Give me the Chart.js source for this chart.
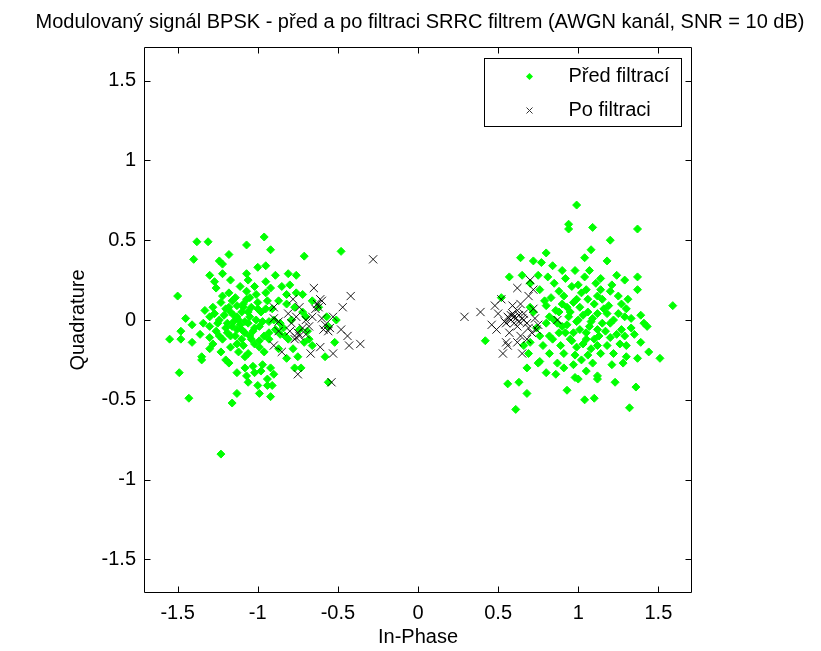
<!DOCTYPE html>
<html>
<head>
<meta charset="utf-8">
<script src="https://cdn.jsdelivr.net/npm/chart.js@4/dist/chart.umd.min.js"></script>
<style>
html,body{margin:0;padding:0;background:#fff;}
#wrap{width:821px;height:651px;}
</style>
</head>
<body>
<div id="wrap"><canvas id="c" width="821" height="651"></canvas></div>
<script>
// ---- data (I = In-Phase, Q = Quadrature) ----
const titleText = 'Modulovaný signál BPSK - před a po filtraci SRRC filtrem (AWGN kanál, SNR = 10 dB)';
const xLabel = 'In-Phase';
const yLabel = 'Quadrature';
const seriesNames = ['Před filtrací', 'Po filtraci'];
const xTicks = [-1.5, -1, -0.5, 0, 0.5, 1, 1.5];
const yTicks = [-1.5, -1, -0.5, 0, 0.5, 1, 1.5];

const beforeLeft = [
[-1.38,0.49],[-1.31,0.49],[-1.07,0.47],[-0.96,0.52],[-0.92,0.44],[-1.40,0.38],[-1.24,0.37],[-1.18,0.41],[-0.71,0.40],[-0.48,0.43],
[-1.30,0.28],[-1.22,0.35],[-1.22,0.29],[-1.07,0.29],[-1.00,0.33],[-0.95,0.34],[-0.89,0.28],[-0.81,0.29],[-0.76,0.28],[-1.06,0.25],
[-1.02,0.21],[-0.95,0.24],[-1.27,0.24],[-1.26,0.20],[-1.18,0.17],[-1.07,0.18],[-0.95,0.17],[-1.50,0.15],[-0.82,0.16],[-0.76,0.17],
[-0.72,0.16],[-1.16,0.12],[-1.07,0.13],[-1.00,0.11],[-0.94,0.12],[-1.23,0.11],[-1.28,0.08],[-1.09,0.08],[-1.04,0.08],[-0.95,0.07],
[-0.82,0.10],[-0.77,0.08],[-0.66,0.12],[-1.30,0.02],[-1.17,0.05],[-1.13,0.02],[-1.10,0.05],[-1.05,0.02],[-1.45,0.01],[-1.24,0.00],
[-1.19,-0.02],[-1.15,-0.01],[-1.11,-0.03],[-1.06,-0.02],[-1.01,0.00],[-0.93,-0.01],[-0.86,-0.02],[-0.79,0.00],[-0.70,0.02],[-0.57,0.02],
[-0.51,0.00],[-1.41,-0.03],[-1.30,-0.04],[-1.26,-0.07],[-1.20,-0.05],[-1.13,-0.06],[-1.08,-0.08],[-1.03,-0.07],[-0.99,-0.04],[-0.93,-0.08],
[-0.86,-0.09],[-0.83,-0.10],[-0.74,-0.06],[-0.69,-0.07],[-0.56,-0.04],[-1.48,-0.07],[-1.55,-0.12],[-1.48,-0.12],[-1.41,-0.14],[-1.36,-0.09],
[-1.30,-0.11],[-1.28,-0.15],[-1.22,-0.12],[-1.17,-0.10],[-1.10,-0.12],[-1.05,-0.10],[-0.99,-0.13],[-0.93,-0.12],[-0.81,-0.12],[-0.66,-0.16],
[-0.52,-0.14],[-1.30,-0.18],[-1.23,-0.20],[-1.17,-0.17],[-1.09,-0.16],[-1.06,-0.21],[-0.99,-0.17],[-1.35,-0.23],[-1.35,-0.25],[-1.20,-0.25],
[-1.18,-0.27],[-1.08,-0.23],[-1.03,-0.29],[-0.97,-0.28],[-0.92,-0.30],[-0.75,-0.23],[-0.58,-0.23],[-0.77,-0.30],[-0.73,-0.30],[-1.49,-0.33],
[-1.13,-0.33],[-1.07,-0.35],[-1.02,-0.33],[-0.98,-0.32],[-0.94,-0.37],[-0.90,-0.34],[-1.06,-0.39],[-1.00,-0.41],[-0.99,-0.46],[-0.94,-0.41],
[-0.91,-0.41],[-1.13,-0.46],[-0.92,-0.48],[-1.43,-0.49],[-1.16,-0.52],[-0.56,-0.39],[-1.23,-0.84],
[-1.12,0.00],[-1.15,0.03],[-1.08,-0.01],[-1.02,-0.05],[-1.09,0.10],[-1.14,-0.10],[-0.98,0.05],[-1.05,0.14],[-1.20,0.07],[-0.90,0.00],
[-0.87,0.12],[-1.25,-0.02],[-1.02,-0.15],[-0.96,-0.20],[-1.12,-0.20],[-0.84,-0.05],[-0.78,-0.18],[-0.72,0.05],[-0.68,-0.12],[-0.62,0.08],
[-1.18,0.08],[-1.13,0.09],[-1.21,0.03],[-1.16,-0.04],[-1.10,-0.06],[-1.06,0.05],[-1.00,0.07],[-0.97,-0.01],[-1.04,-0.12],[-1.14,0.14],
[-1.22,0.15],[-1.01,0.16],[-0.91,0.07],[-0.89,-0.06],[-0.96,-0.10],[-1.19,-0.08],[-1.24,-0.10],[-1.27,0.04],[-1.33,0.06],[-1.34,-0.02],
[-0.85,0.21],[-0.80,0.22],[-0.92,0.20],[-1.11,0.21],[-1.17,0.25],[-1.13,-0.15],[-1.08,-0.30],[-0.87,-0.18],[-0.82,-0.24],[-0.71,-0.14]
];

const beforeRight = [
[0.99,0.72],[0.94,0.60],[0.94,0.57],[1.09,0.58],[1.37,0.57],[1.20,0.50],[1.08,0.44],[1.04,0.39],[0.80,0.42],[0.64,0.39],
[0.72,0.37],[0.77,0.36],[0.84,0.34],[1.18,0.37],[0.90,0.31],[0.98,0.31],[1.07,0.31],[1.37,0.27],[0.57,0.27],[0.65,0.28],
[0.75,0.28],[0.81,0.27],[0.92,0.26],[1.04,0.27],[1.14,0.26],[1.24,0.28],[1.29,0.25],[0.70,0.23],[0.85,0.23],[0.96,0.21],
[1.05,0.19],[1.14,0.19],[1.20,0.18],[1.37,0.19],[0.76,0.19],[0.83,0.14],[0.99,0.13],[1.02,0.17],[1.12,0.15],[1.19,0.09],
[1.27,0.10],[1.30,0.07],[1.39,0.03],[1.59,0.09],[0.52,0.14],[0.70,0.08],[0.80,0.09],[0.88,0.05],[0.94,0.02],[1.01,0.08],
[1.06,0.05],[1.09,0.01],[1.18,0.04],[1.25,0.04],[1.33,0.01],[1.41,-0.02],[1.43,-0.04],[0.80,-0.02],[0.87,-0.02],[0.93,-0.03],
[0.99,-0.01],[1.07,-0.04],[1.12,-0.06],[1.20,-0.02],[1.27,-0.06],[1.33,-0.05],[1.05,-0.08],[1.13,-0.10],[1.20,-0.11],[1.29,-0.10],
[0.76,-0.10],[0.82,-0.10],[0.88,-0.08],[0.97,-0.08],[0.70,-0.14],[0.78,-0.16],[0.89,-0.16],[0.96,-0.13],[1.03,-0.15],[1.12,-0.16],
[1.22,-0.21],[1.30,-0.16],[1.39,-0.14],[1.44,-0.20],[1.51,-0.24],[0.42,-0.13],[0.69,-0.21],[0.82,-0.21],[0.91,-0.21],[0.98,-0.22],
[1.06,-0.22],[1.14,-0.21],[1.30,-0.23],[1.37,-0.24],[0.68,-0.30],[0.75,-0.27],[0.80,-0.33],[0.86,-0.34],[0.98,-0.36],[1.05,-0.32],
[1.12,-0.35],[1.21,-0.28],[1.28,-0.27],[0.56,-0.40],[0.63,-0.39],[0.68,-0.46],[0.93,-0.44],[1.00,-0.37],[1.12,-0.37],[1.23,-0.39],
[1.36,-0.42],[1.04,-0.50],[1.10,-0.49],[0.61,-0.56],[1.32,-0.55],[0.76,-0.26],[0.66,-0.16],[0.87,-0.27],[1.09,-0.27],
[0.95,0.05],[1.00,0.00],[0.90,0.10],[1.10,0.10],[1.15,-0.02],[0.85,0.00],[1.05,-0.12],[0.92,-0.08],[1.00,0.22],[0.72,0.05],
[0.74,-0.05],[1.25,0.15],[0.88,0.18],[1.18,-0.16],[0.97,-0.28],
[0.93,0.08],[0.97,0.11],[1.03,0.03],[1.08,-0.01],[1.12,0.04],[1.16,0.07],[1.22,0.00],[1.24,-0.09],[1.17,-0.07],[1.10,-0.12],
[1.01,-0.06],[0.95,-0.12],[0.90,-0.04],[0.86,0.06],[0.82,0.02],[0.91,0.15],[1.06,0.13],[1.15,0.13],[1.29,0.02],[1.35,-0.09],
[1.26,-0.15],[1.08,-0.18],[0.99,-0.17],[0.84,-0.12],[0.79,0.12],[1.11,0.23],[1.21,0.22],[1.31,0.13],[1.02,-0.25],[0.91,-0.30]
];

const afterLeft = [
[-0.28,0.38],[-0.65,0.20],[-0.42,0.15],[-0.78,0.13],[-0.60,0.12],[-0.90,0.08],[-0.74,0.08],[-0.62,0.08],[-0.47,0.08],[-0.53,0.02],
[-0.90,0.01],[-0.76,0.02],[-0.66,0.02],[-0.60,0.01],[-0.87,-0.01],[-0.79,-0.02],[-0.70,0.00],[-0.59,-0.06],[-0.55,-0.05],[-0.48,-0.06],
[-0.87,-0.07],[-0.75,-0.08],[-0.70,-0.09],[-0.76,-0.11],[-0.44,-0.10],[-0.90,-0.16],[-0.85,-0.20],[-0.80,-0.07],[-0.61,-0.17],[-0.53,-0.21],
[-0.67,-0.21],[-0.43,-0.16],[-0.36,-0.15],[-0.75,-0.34],[-0.54,-0.39],[-0.61,0.13],[-0.64,0.07],[-0.72,-0.05],[-0.56,-0.07],
[-0.77,-0.12],[-0.74,-0.10],[-0.63,0.10],[-0.58,-0.03],[-0.68,-0.04],[-0.81,0.04]
];

const afterRight = [
[0.29,0.02],[0.39,0.05],[0.62,0.20],[0.70,0.25],[0.72,0.19],[0.69,0.15],[0.48,0.09],[0.52,0.13],[0.59,0.09],[0.64,0.10],
[0.50,0.04],[0.46,-0.03],[0.49,-0.06],[0.56,0.02],[0.58,0.00],[0.60,0.02],[0.63,-0.01],[0.55,-0.02],[0.66,0.00],[0.68,-0.02],
[0.73,0.01],[0.75,-0.03],[0.57,-0.08],[0.64,-0.10],[0.71,-0.08],[0.74,-0.06],[0.62,-0.14],[0.68,-0.12],[0.55,-0.14],[0.53,-0.21],
[0.65,-0.21],[0.87,0.00],[0.72,0.07],[0.57,0.01],[0.59,0.04],[0.62,-0.04],[0.66,0.04],[0.69,-0.05],[0.54,-0.01],[0.56,-0.16],
[0.61,0.01],[0.60,-0.02],[0.63,0.03],[0.58,0.03],[0.65,0.01],[0.62,0.06]
];

// ---- chart ----
const FONT = '"Liberation Sans", Arial, Helvetica, sans-serif';
const axisLimit = 1.71;
const toPts = arr => arr.map(p => ({x: p[0], y: p[1]}));

const framePlugin = {
  id: 'frame',
  afterDatasetsDraw(chart) {
    const {ctx, chartArea: ca, scales: {x, y}} = chart;
    const L = Math.round(ca.left) + 0.5, R = Math.round(ca.right) - 0.5;
    const T = Math.round(ca.top) + 0.5, B = Math.round(ca.bottom) - 0.5;
    const tl = 6;
    ctx.save();
    ctx.strokeStyle = '#000';
    ctx.lineWidth = 1;
    ctx.beginPath();
    ctx.rect(L, T, R - L, B - T);
    xTicks.forEach(v => {
      const px = Math.round(x.getPixelForValue(v)) + 0.5;
      ctx.moveTo(px, B); ctx.lineTo(px, B - tl);
      ctx.moveTo(px, T); ctx.lineTo(px, T + tl);
    });
    yTicks.forEach(v => {
      const py = Math.round(y.getPixelForValue(v)) + 0.5;
      ctx.moveTo(L, py); ctx.lineTo(L + tl, py);
      ctx.moveTo(R, py); ctx.lineTo(R - tl, py);
    });
    ctx.stroke();

    // title
    ctx.fillStyle = '#000';
    ctx.font = '20px ' + FONT;
    ctx.textAlign = 'center';
    ctx.textBaseline = 'middle';
    ctx.fillText(titleText, 420, 22);

    // legend (inside, top-right)
    const bw = 197, bh = 68;
    const bx = Math.round(ca.right) - 11 - bw + 0.5, by = Math.round(ca.top) + 11 + 0.5;
    ctx.fillStyle = '#fff';
    ctx.fillRect(bx, by, bw, bh);
    ctx.strokeStyle = '#000';
    ctx.strokeRect(bx, by, bw, bh);
    const ds = chart.data.datasets;
    const rows = [by + 18, by + 52];
    ds.forEach((d, i) => {
      const mx = bx + 45, my = rows[i];
      if (d.pointStyle === 'rectRot') {
        ctx.fillStyle = d.backgroundColor;
        ctx.beginPath();
        ctx.moveTo(mx, my - 3.5); ctx.lineTo(mx + 3.5, my); ctx.lineTo(mx, my + 3.5); ctx.lineTo(mx - 3.5, my);
        ctx.closePath(); ctx.fill();
      } else {
        ctx.strokeStyle = '#333';
        ctx.beginPath();
        ctx.moveTo(mx - 3, my - 3); ctx.lineTo(mx + 3, my + 3);
        ctx.moveTo(mx + 3, my - 3); ctx.lineTo(mx - 3, my + 3);
        ctx.stroke();
      }
      ctx.fillStyle = '#000';
      ctx.font = '20px ' + FONT;
      ctx.textBaseline = 'middle';
      ctx.textAlign = 'left';
      ctx.fillText(d.label, bx + 84, my);
    });
    ctx.restore();
  }
};

new Chart(document.getElementById('c'), {
  type: 'scatter',
  data: {
    datasets: [
      {
        label: seriesNames[0],
        data: toPts(beforeLeft.concat(beforeRight)),
        pointStyle: 'rectRot',
        pointRadius: 4,
        backgroundColor: '#00ff00',
        borderColor: '#00ff00',
        borderWidth: 1,
        order: 2
      },
      {
        label: seriesNames[1],
        data: toPts(afterLeft.concat(afterRight)),
        pointStyle: 'crossRot',
        pointRadius: 5.8,
        backgroundColor: 'rgba(0,0,0,0)',
        borderColor: 'rgba(0,0,0,0.9)',
        borderWidth: 1,
        order: 1
      }
    ]
  },
  options: {
    responsive: false,
    animation: false,
    events: [],
    layout: {padding: {left: 0, right: 129, top: 47, bottom: 0}},
    plugins: {
      legend: {display: false},
      tooltip: {enabled: false},
      title: {display: false}
    },
    scales: {
      x: {
        type: 'linear',
        min: -axisLimit, max: axisLimit,
        grid: {display: false, drawTicks: false},
        border: {display: false},
        afterBuildTicks: s => { s.ticks = xTicks.map(v => ({value: v})); },
        afterFit: s => { s.height = 58; },
        ticks: {
          color: '#000',
          padding: 8,
          font: {family: FONT, size: 20},
          callback: v => String(v)
        },
        title: {
          display: true, text: xLabel, color: '#000',
          font: {family: FONT, size: 20, lineHeight: 1.2},
          padding: {top: 0, bottom: 2}
        }
      },
      y: {
        type: 'linear',
        min: -axisLimit, max: axisLimit,
        grid: {display: false, drawTicks: false},
        border: {display: false},
        afterBuildTicks: s => { s.ticks = yTicks.map(v => ({value: v})); },
        afterFit: s => { s.width = 144; },
        ticks: {
          color: '#000',
          padding: 8,
          font: {family: FONT, size: 20},
          callback: v => String(v)
        },
        title: {
          display: true, text: yLabel, color: '#000',
          font: {family: FONT, size: 20, lineHeight: 1.2},
          padding: {top: 66, bottom: 0}
        }
      }
    }
  },
  plugins: [framePlugin]
});
</script>
</body>
</html>
